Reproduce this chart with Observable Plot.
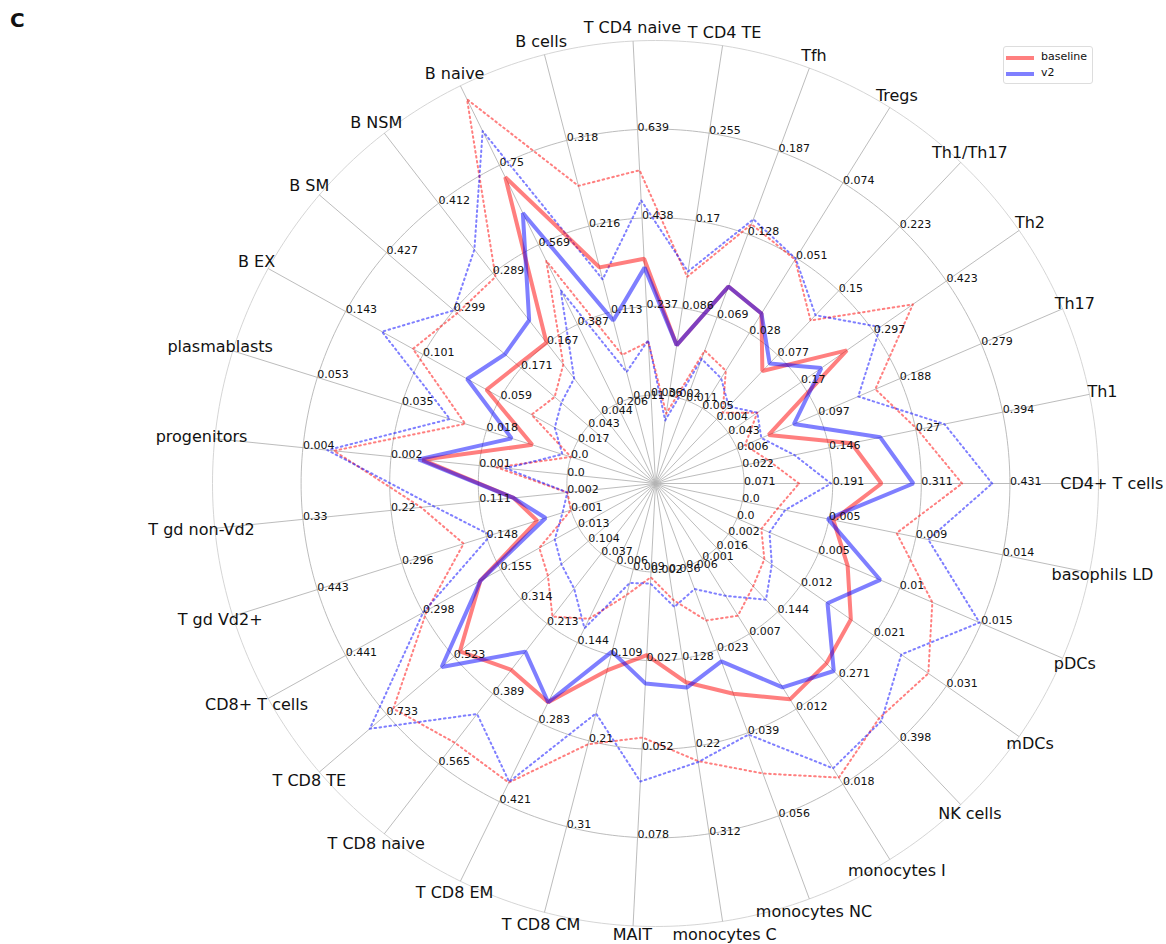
<!DOCTYPE html>
<html><head><meta charset="utf-8">
<script src="https://cdn.jsdelivr.net/npm/d3@7"></script>
<script src="https://cdn.jsdelivr.net/npm/@observablehq/plot@0.6"></script>
<style>
body{margin:0;background:#fff;font-family:"DejaVu Sans",sans-serif;}
#wrap{position:relative;width:1166px;height:944px;}
#panel{position:absolute;left:10px;top:8px;font-size:20px;font-weight:bold;color:#111;}
#legend{position:absolute;left:1003px;top:46px;width:88px;height:36px;border:1px solid #ddd;border-radius:3px;background:#fff;font-size:11px;color:#111;}
#legend div{position:absolute;left:0;}
#legend span.sw{position:absolute;left:2px;width:28px;height:4px;}
#legend span.lb{position:absolute;left:37px;}
</style>
</head><body>
<div id="wrap"><div id="chart"></div><div id="panel">C</div>
<div id="legend">
<div style="top:9px"><span class="sw" style="background:rgba(255,0,0,0.5);top:0"></span><span class="lb" style="top:-6px">baseline</span></div>
<div style="top:25px"><span class="sw" style="background:rgba(0,0,255,0.5);top:0"></span><span class="lb" style="top:-6px">v2</span></div>
</div></div>
<script>
const categories = ["CD4+ T cells","Th1","Th17","Th2","Th1/Th17","Tregs","Tfh","T CD4 TE","T CD4 naive","B cells","B naive","B NSM","B SM","B EX","plasmablasts","progenitors","T gd non-Vd2","T gd Vd2+","CD8+ T cells","T CD8 TE","T CD8 naive","T CD8 EM","T CD8 CM","MAIT","monocytes C","monocytes NC","monocytes I","NK cells","mDCs","pDCs","basophils LD"];

// ring tick labels (rings 1..4) per axis
const tickLabels = [
 ["0.071","0.191","0.311","0.431"],["0.022","0.146","0.27","0.394"],["0.006","0.097","0.188","0.279"],
 ["0.043","0.17","0.297","0.423"],["0.004","0.077","0.15","0.223"],["0.005","0.028","0.051","0.074"],
 ["0.011","0.069","0.128","0.187"],["0.002","0.086","0.17","0.255"],["0.036","0.237","0.438","0.639"],
 ["0.011","0.113","0.216","0.318"],["0.206","0.387","0.569","0.75"],["0.044","0.167","0.289","0.412"],
 ["0.043","0.171","0.299","0.427"],["0.017","0.059","0.101","0.143"],["0.0","0.018","0.035","0.053"],
 ["0.0","0.001","0.002","0.004"],["0.002","0.111","0.22","0.33"],["0.001","0.148","0.296","0.443"],
 ["0.013","0.155","0.298","0.441"],["0.104","0.314","0.523","0.733"],["0.037","0.213","0.389","0.565"],
 ["0.006","0.144","0.283","0.421"],["0.009","0.109","0.21","0.31"],["0.002","0.027","0.052","0.078"],
 ["0.036","0.128","0.22","0.312"],["0.006","0.023","0.039","0.056"],["0.001","0.007","0.012","0.018"],
 ["0.016","0.144","0.271","0.398"],["0.002","0.012","0.021","0.031"],["0.0","0.005","0.01","0.015"],
 ["0.0","0.005","0.009","0.014"]
];

const baseline = [0.257,0.178,0.0415,0.2495,0.0588,0.034,0.0914,0.0509,0.3455,0.1665,0.7228,0.1679,0.1774,0.0666,0.0081,0.00219,0.0687,0.0599,0.1928,0.5045,0.3292,0.2481,0.1274,0.0258,0.1528,0.0315,0.0116,0.2452,0.0183,0.0068,0.0049];
const v2 = [0.3002,0.2192,0.0697,0.2051,0.0675,0.034,0.0914,0.0509,0.3254,0.1031,0.6412,0.2071,0.2017,0.0771,0.0124,0.00225,0.0687,0.0452,0.1928,0.5611,0.2834,0.2481,0.1053,0.0339,0.1584,0.025,0.0107,0.2605,0.0152,0.0088,0.0046];
const baselineHigh = [0.3662,0.2725,0.1607,0.3647,0.1164,0.0505,0.1354,0.1167,0.5465,0.2638,0.9005,0.2832,0.2926,0.1065,0.0221,0.00353,0.1835,0.1881,0.2912,0.712,0.5122,0.3878,0.2137,0.0494,0.2356,0.0475,0.0175,0.3547,0.0286,0.012,0.0083];
const v2High = [0.407,0.3109,0.1416,0.3077,0.1223,0.0508,0.1389,0.1218,0.4782,0.1522,0.828,0.331,0.299,0.1233,0.0253,0.00363,0.1682,0.141,0.2983,0.7854,0.44,0.3864,0.1776,0.062,0.2366,0.0397,0.0168,0.3598,0.025,0.0149,0.01];
const baselineLow = [0.1454,0.0592,0.0151,0.0937,0.0113,0.0165,0.0462,-0.015,0.1566,0.0622,0.5324,0.1299,0.107,0.0422,0,0.00107,0.002,0.001,0.0843,0.2298,0.1954,0.1028,0.0391,0.0035,0.0664,0.0168,0.0053,0.0924,0.0068,0.0015,0.0019];
const v2Low = [0.1886,0.0964,0.0333,0.0937,0.0186,0.0142,0.0403,-0.0216,0.1606,0.0417,0.4653,0.1053,0.0942,0.0296,0.0018,0.00093,0.002,0.0157,0.0558,0.1879,0.125,0.1194,0.025,0.0053,0.0737,0.0105,0.0038,0.1191,0.0078,0.002,0.0023];

const N = categories.length;
const NR = 5; // rings
const W = 1166, H = 944, cx = 655, cy = 483, U = 88.6;
const ang = i => i * 2 * Math.PI / N;
// per-axis linear scale: ring 1 -> first tick, ring 4 -> last tick
const ringOf = (i, v) => {
  const t1 = +tickLabels[i][0], t4 = +tickLabels[i][3];
  return 1 + 3 * (v - t1) / (t4 - t1);
};
const pt = (i, R) => ({x: R * Math.cos(ang(i)), y: R * Math.sin(ang(i))});
const seriesPts = (vals, name) => vals.map((v, i) => ({...pt(i, ringOf(i, v)), s: name}));

const rings = [];
for (let k = 1; k <= NR; k++) for (let a = 0; a <= 360; a += 1) {
  const t = a * Math.PI / 180; rings.push({x: k * Math.cos(t), y: k * Math.sin(t), k});
}
const spokes = categories.map((c, i) => ({x1: 0, y1: 0, x2: pt(i, NR).x, y2: pt(i, NR).y}));
const tickPts = [];
tickLabels.forEach((arr, i) => arr.forEach((t, j) => tickPts.push({...pt(i, j + 1), t})));
const yMin = -(H - cy - 10) / U; // keep bottom labels inside the picture
const catPts = categories.map((c, i) => {
  const p = pt(i, 5.15);
  return {x: p.x, y: Math.max(p.y, yMin), c};
});

const RED = "#ff0000", BLUE = "#0000ff";
const dotted = "1.6,3.4";

const plot = Plot.plot({
  width: W, height: H, margin: 0,
  x: {domain: [-cx / U, (W - cx) / U], range: [0, W], axis: null},
  y: {domain: [-(H - cy) / U, cy / U], range: [H, 0], axis: null},
  style: {fontFamily: "DejaVu Sans, sans-serif", background: "white"},
  marks: [
    Plot.line(rings, {x: "x", y: "y", z: "k", stroke: d => d.k === NR ? "#d0d0d0" : "#b4b4b4", strokeWidth: 0.9}),
    Plot.link(spokes, {x1: "x1", y1: "y1", x2: "x2", y2: "y2", stroke: "#b4b4b4", strokeWidth: 0.9}),
    Plot.line(seriesPts(baselineHigh, "bh"), {x: "x", y: "y", curve: "linear-closed", stroke: RED, strokeOpacity: 0.5, strokeWidth: 2, strokeDasharray: dotted}),
    Plot.line(seriesPts(baselineLow, "bl"), {x: "x", y: "y", curve: "linear-closed", stroke: RED, strokeOpacity: 0.5, strokeWidth: 2, strokeDasharray: dotted}),
    Plot.line(seriesPts(v2High, "vh"), {x: "x", y: "y", curve: "linear-closed", stroke: BLUE, strokeOpacity: 0.5, strokeWidth: 2, strokeDasharray: dotted}),
    Plot.line(seriesPts(v2Low, "vl"), {x: "x", y: "y", curve: "linear-closed", stroke: BLUE, strokeOpacity: 0.5, strokeWidth: 2, strokeDasharray: dotted}),
    Plot.line(seriesPts(baseline, "b"), {x: "x", y: "y", curve: "linear-closed", stroke: RED, strokeOpacity: 0.5, strokeWidth: 4, strokeLinejoin: "miter"}),
    Plot.line(seriesPts(v2, "v"), {x: "x", y: "y", curve: "linear-closed", stroke: BLUE, strokeOpacity: 0.5, strokeWidth: 4, strokeLinejoin: "miter"}),
    Plot.text(tickPts, {x: "x", y: "y", text: "t", textAnchor: "start", lineAnchor: "bottom", fontSize: 11, fill: "#111", dy: 1}),
    Plot.text(catPts, {x: "x", y: "y", text: "c", textAnchor: "middle", lineAnchor: "middle", fontSize: 16, fill: "#111"})
  ]
});
document.getElementById("chart").appendChild(plot);
</script>
</body></html>
